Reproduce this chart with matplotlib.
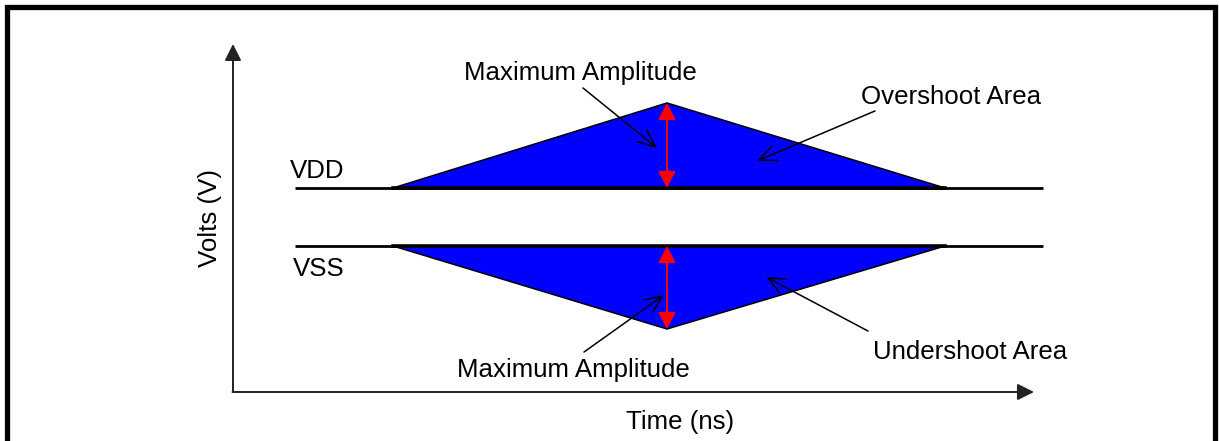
import matplotlib
matplotlib.use("Agg")
import matplotlib.pyplot as plt
from matplotlib.lines import Line2D

plt.rcParams['font.family'] = ['Liberation Sans', 'DejaVu Sans']

"""schematic values: time in ns, volts relative to VSS"""
vdd = 1.0
vss = 0.0
t_rail = [0.62, 8.1]
t_shoot = [1.6, 4.34, 7.12]
v_over = [1.0, 2.466, 1.0]
v_under = [0.0, -1.431, 0.0]
t_peak = 4.34

labels = ["Maximum Amplitude", "Overshoot Area", "Undershoot Area", "Maximum Amplitude"]

fs = 18.6

# figure is 1219x441 px, axes fill it; 100 px per ns, 58 px per volt
fig = plt.figure(figsize=(12.19, 4.41), dpi=100)
ax = fig.add_axes([0, 0, 1, 1])
ax.set_xlim(-2.33, 9.86)
ax.set_ylim(-3.362, 4.241)
ax.axis('off')

x0, y0 = 0.0, -2.517   # axis origin
# axes with arrows
ax.annotate('', xy=(x0, 3.483), xytext=(x0, y0),
            arrowprops=dict(arrowstyle='-|>,head_length=1.0,head_width=0.5',
                            color='#222222', lw=1.4, shrinkA=0, shrinkB=0))
ax.annotate('', xy=(8.01, y0), xytext=(x0 - 0.005, y0),
            arrowprops=dict(arrowstyle='-|>,head_length=1.0,head_width=0.5',
                            color='#222222', lw=1.4, shrinkA=0, shrinkB=0))

# rails
ax.plot(t_rail, [vdd, vdd], color='black', lw=2.0, solid_capstyle='butt')
ax.plot(t_rail, [vss, vss], color='black', lw=2.0, solid_capstyle='butt')

# overshoot / undershoot areas
ax.fill(t_shoot, v_over, facecolor='#0000ff', edgecolor='black', lw=1.1, zorder=3)
ax.fill(t_shoot, v_under, facecolor='#0000ff', edgecolor='black', lw=1.1, zorder=3)
ax.plot([t_shoot[0], t_shoot[-1]], [vdd, vdd], color='black', lw=2.6, zorder=4)
ax.plot([t_shoot[0], t_shoot[-1]], [vss, vss], color='black', lw=2.6, zorder=4)

# max amplitude arrows
for a, b in [(vdd, v_over[1]), (vss, v_under[1])]:
    ax.annotate('', xy=(t_peak, b), xytext=(t_peak, a),
                arrowprops=dict(arrowstyle='<|-|>,head_length=1.0,head_width=0.52',
                                color='#ff0000', lw=1.5, shrinkA=0, shrinkB=0),
                zorder=5)

# callouts
callouts = [
    (labels[0], (3.47, 2.86), (3.50, 2.724), (4.24, 1.69)),
    (labels[1], (7.18, 2.45), (6.42, 2.328), (5.24, 1.466)),
    (labels[2], (7.37, -1.95), (6.35, -1.466), (5.33, -0.534)),
    (labels[3], (3.40, -2.26), (3.51, -1.828), (4.31, -0.845)),
]
for txt, tpos, start, end in callouts:
    ax.text(tpos[0], tpos[1], txt, ha='center', va='baseline', fontsize=fs)
    ax.annotate('', xy=end, xytext=start,
                arrowprops=dict(arrowstyle='->,head_length=1.25,head_width=0.55',
                                color='black', lw=1.1, shrinkA=0, shrinkB=0),
                zorder=6)

ax.text(0.57, 1.172, 'VDD', ha='left', va='baseline', fontsize=fs)
ax.text(0.60, -0.517, 'VSS', ha='left', va='baseline', fontsize=fs)
ax.text(4.47, -3.155, 'Time (ns)', ha='center', va='baseline', fontsize=fs)
ax.text(-0.23, 0.483, 'Volts (V)', ha='center', va='center', rotation=90, fontsize=fs)

# frame around the picture (top, left, right)
w, h = 1219.0, 441.0
fig.add_artist(Line2D([6.5 / w, 6.5 / w, 1215 / w, 1215 / w],
                      [0, 1 - 6.5 / h, 1 - 6.5 / h, 0],
                      color='black', lw=3.8, solid_joinstyle='miter',
                      transform=fig.transFigure))

fig.savefig('out.png', dpi=100)
